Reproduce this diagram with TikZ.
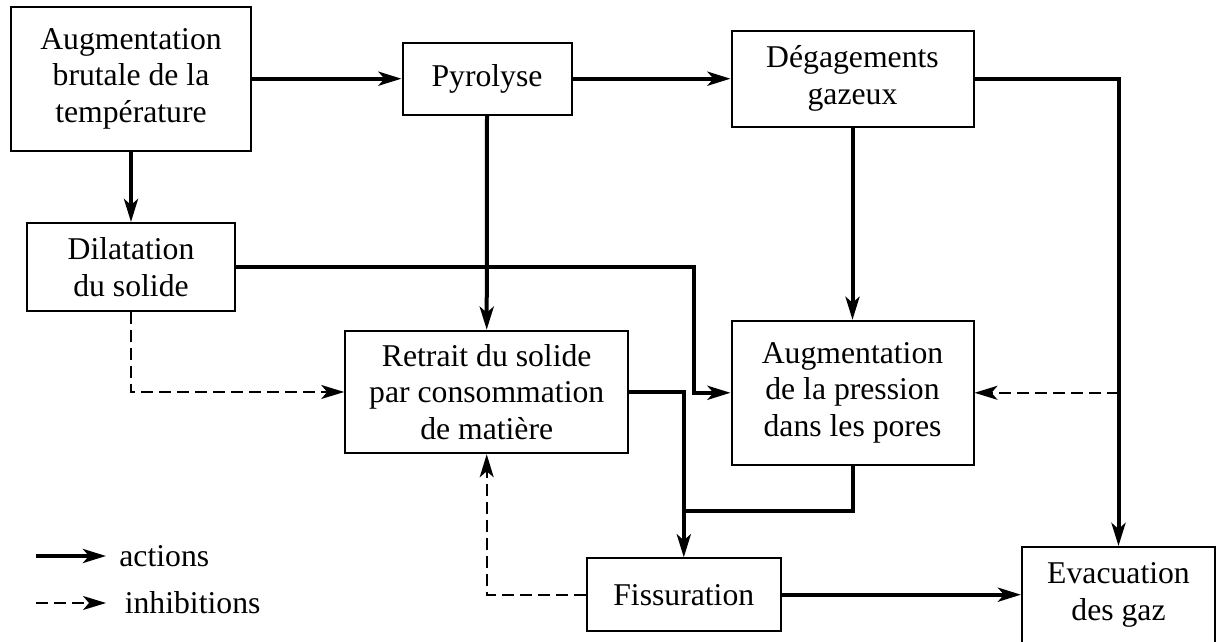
\documentclass[tikz,border=0pt]{standalone}
\usepackage{fontspec}
\setmainfont{Liberation Serif}
\usetikzlibrary{arrows.meta}

\begin{document}
\begin{tikzpicture}[x=0.5pt,y=0.5pt]
% Diagram style
\tikzset{
    box/.style={draw,line width=1pt,inner sep=0pt,align=center,
        font=\fontsize{15.85pt}{18.35pt}\selectfont},
    lbl/.style={inner sep=0pt,font=\fontsize{15.85pt}{18.35pt}\selectfont},
    act/.style={line width=2pt,-{Stealth[length=11.5pt,width=7pt,inset=3pt]}},
    inh/.style={line width=1pt,dash pattern=on 6pt off 3pt,
        -{Stealth[length=11.5pt,width=7pt,inset=3pt]}}
}
\useasboundingbox (0,0) rectangle (1216,642);
% Blocks
\node[box,minimum width=120pt,minimum height=72pt] (temp) at (131,563.3){Augmentation\\brutale de la\\température};
\node[box,minimum width=84.5pt,minimum height=36pt] (pyro) at (487,563.3){Pyrolyse};
\node[box,minimum width=121pt,minimum height=48pt] (gaz) at (852.5,563.3){Dégagements\\gazeux};
\node[box,minimum width=104pt,minimum height=44pt] (dil) at (131,375){Dilatation\\du solide};
\node[box,minimum width=141.5pt,minimum height=61.3pt] (retr) at (486.7,250){Retrait du solide\\par consommation\\de matière};
\node[box,minimum width=121pt,minimum height=72pt] (pres) at (852.5,249.2){Augmentation\\de la pression\\dans les pores};
\node[box,minimum width=96.75pt,minimum height=36.35pt] (fiss) at (683.8,47.3){Fissuration};
\node[box,minimum width=96.5pt,minimum height=48pt] (evac) at (1118.5,47){Evacuation\\des gaz};
% Actions
\coordinate (k1) at (693.6,0);
\coordinate (k2) at (683.8,131);
\draw[act] (temp.east) -- (pyro.west);
\draw[act] (pyro.east) -- (gaz.west);
\draw[act] (temp.south) -- (dil.north);
\draw[act] (gaz.east) -| (evac.north);
\draw[act] (gaz.south) -- (pres.north);
\draw[act] (pyro.south) -- (retr.north);
\draw[act] (dil.east) -- (dil.east -| k1) -- (pres.west -| k1) -- (pres.west);
\draw[act] (retr.east) -| (fiss.north);
\draw[line width=2pt] (pres.south) |- (k2);
\draw[act] (fiss.east) -- (fiss.east -| evac.west);
% Inhibitions
\draw[inh] (dil.south) |- (retr.west);
\draw[inh] (fiss.west) -| (retr.south);
\draw[inh] (pres.east -| evac.north) -- (pres.east);
% Legend
\coordinate (l1) at (36,86);
\coordinate (l2) at (36,39);
\draw[act] (l1) -- ++(70,0) node[lbl,right=5.7pt](la){actions};
\draw[inh] (l2) -- ++(70,0) node[lbl,right=8.9pt](li){inhibitions};
\end{tikzpicture}
\end{document}
